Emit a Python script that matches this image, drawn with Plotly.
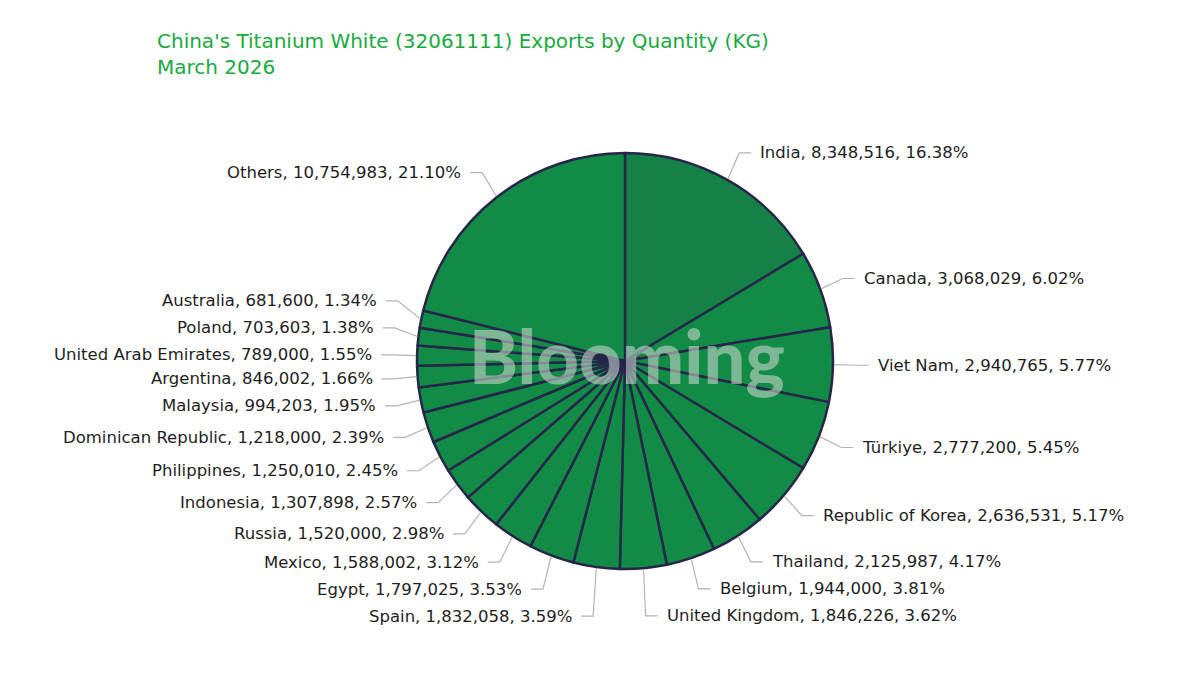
import math
import plotly.graph_objects as go

# ---------------- data ----------------
countries = ["India", "Canada", "Viet Nam", "Türkiye", "Republic of Korea", "Thailand",
             "Belgium", "United Kingdom", "Spain", "Egypt", "Mexico", "Russia",
             "Indonesia", "Philippines", "Dominican Republic", "Malaysia", "Argentina",
             "United Arab Emirates", "Poland", "Australia", "Others"]
quantities = [8348516, 3068029, 2940765, 2777200, 2636531, 2125987,
              1944000, 1846226, 1832058, 1797025, 1588002, 1520000,
              1307898, 1250010, 1218000, 994203, 846002,
              789000, 703603, 681600, 10754983]
shares = [16.38, 6.02, 5.77, 5.45, 5.17, 4.17,
          3.81, 3.62, 3.59, 3.53, 3.12, 2.98,
          2.57, 2.45, 2.39, 1.95, 1.66,
          1.55, 1.38, 1.34, 21.10]
title_lines = ["China's Titanium White (32061111) Exports by Quantity (KG)", "March 2026"]

# ---------------- layout geometry (pixels) ----------------
W, H = 1200, 675
CX, CY, R = 625, 361, 208
ELBOW_R = R + 24       # radius of leader elbow (x)
LABEL_R = R + 31       # radius for natural label height
GAP = 27               # min vertical spacing between labels
SEG = 12               # horizontal leader length
PAD = 7                # leader end -> text

colors = ["#148246"] + ["#118b45"] * (len(countries) - 1)


def px(x):
    return x / W


def py(y):
    return 1 - y / H


fig = go.Figure()
fig.add_trace(go.Pie(
    labels=countries, values=quantities, sort=False, direction="clockwise", rotation=0,
    textinfo="none", hoverinfo="label+value+percent", showlegend=False,
    marker=dict(colors=colors, line=dict(color="#26264a", width=2.5)),
    domain=dict(x=[px(CX - R), px(CX + R)], y=[py(CY + R), py(CY - R)]),
))

# mid angles (clockwise from 12 o'clock)
total = sum(quantities)
mids = []
cum = 0
for q in quantities:
    mids.append((cum + q / 2) / total * 2 * math.pi)
    cum += q

items = []
for i, a in enumerate(mids):
    side = 1 if math.sin(a) >= 0 else -1
    items.append(dict(i=i, a=a, side=side, y=CY - LABEL_R * math.cos(a)))

# simple anti-overlap per side
for side in (1, -1):
    grp = sorted([it for it in items if it["side"] == side], key=lambda d: d["y"])
    above = [it for it in grp if it["y"] < CY]
    below = [it for it in grp if it["y"] >= CY]
    for k in range(len(below)):
        if k > 0:
            below[k]["y"] = max(below[k]["y"], below[k - 1]["y"] + GAP)
    for k in range(len(above) - 2, -1, -1):
        above[k]["y"] = min(above[k]["y"], above[k + 1]["y"] - GAP)

shapes = []
annotations = []
for it in items:
    a, s, ly = it["a"], it["side"], it["y"]
    ex0 = CX + (R + 1) * math.sin(a)
    ey0 = CY - (R + 1) * math.cos(a)
    bx = CX + ELBOW_R * math.sin(a)
    hx = bx + s * SEG
    shapes.append(dict(
        type="path", xref="paper", yref="paper",
        path=f"M {px(ex0)},{py(ey0)} L {px(bx)},{py(ly)} L {px(hx)},{py(ly)}",
        line=dict(color="#b4b4b4", width=1.2),
    ))
    i = it["i"]
    txt = f"{countries[i]}, {quantities[i]:,}, {shares[i]:.2f}%"
    annotations.append(dict(
        x=px(hx + s * PAD), y=py(ly), xref="paper", yref="paper",
        text=txt, showarrow=False, xanchor="left" if s > 0 else "right", yanchor="middle",
        font=dict(family="DejaVu Sans", size=16.5, color="#1e1e1e"),
    ))

# watermark
annotations.append(dict(
    x=px(CX + 2), y=py(CY - 6), xref="paper", yref="paper", text="Blooming",
    showarrow=False, xanchor="center", yanchor="middle",
    font=dict(family="Lato", size=74, color="rgba(215,220,215,0.55)", weight=900),
))

# title
annotations.append(dict(
    x=px(155), y=py(27), xref="paper", yref="paper",
    text="<br>".join(title_lines), showarrow=False, xanchor="left", yanchor="top", align="left",
    font=dict(family="DejaVu Sans", size=20, color="#16ab3c"),
))

fig.update_layout(
    width=W, height=H, margin=dict(l=0, r=0, t=0, b=0),
    paper_bgcolor="white", plot_bgcolor="white",
    shapes=shapes, annotations=annotations,
)

fig.write_html("out.html")
